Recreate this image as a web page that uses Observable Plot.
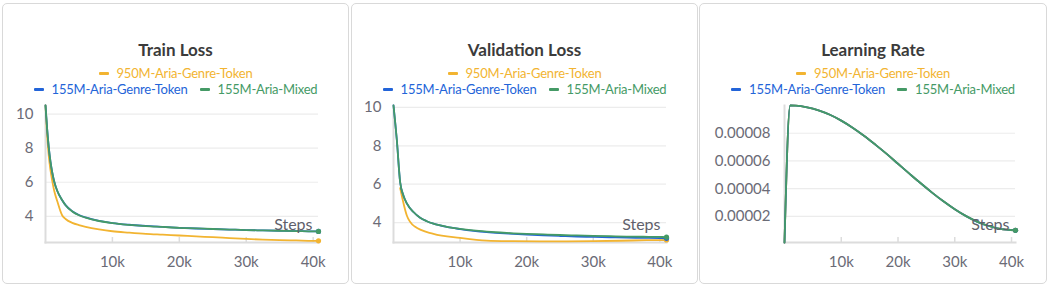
<!DOCTYPE html>
<html>
<head>
<meta charset="utf-8">
<script src="https://cdn.jsdelivr.net/npm/d3@7"></script>
<script src="https://cdn.jsdelivr.net/npm/@observablehq/plot@0.6"></script>
<style>
  html, body { margin: 0; padding: 0; background: #fff; }
  body { position: relative; width: 1049px; height: 286px; overflow: hidden; font-family: Lato, "Noto Sans", sans-serif; }
  .card { position: absolute; top: 3px; height: 281px; box-sizing: border-box; border: 1px solid #d9d9d9; border-radius: 5px; }
  .title { position: absolute; left: 0; right: 0; top: 35px; text-align: center; font-weight: bold; font-size: 17px; color: #3b3b3b; }
  .leg { position: absolute; left: 0; right: 0; text-align: center; font-size: 13px; letter-spacing: -0.2px; white-space: nowrap; }
  .leg span.item { display: inline-block; margin: 0 6px; }
  .leg i { display: inline-block; width: 10px; height: 3px; border-radius: 1px; vertical-align: middle; margin-right: 8px; position: relative; top: -1px; }
  .plotbox { position: absolute; top: 95px; }
  .plotbox svg { display: block; background: transparent; }
</style>
</head>
<body>
<div id="root"></div>
<script>
// ---- data ----
const seriesNames = ["950M-Aria-Genre-Token", "155M-Aria-Genre-Token", "155M-Aria-Mixed"];
const seriesColors = ["#f2b431", "#2364d8", "#459a66"];
const panelTitles = ["Train Loss", "Validation Loss", "Learning Rate"];
const xTicks = [10000, 20000, 30000, 40000];

// Train loss
const trainSteps = [0, 250, 500, 750, 1000, 1300, 1750, 2500, 3000, 4000, 5000, 6000, 8000, 10000, 12500, 15000, 17500, 20000, 22500, 25000, 27500, 30000, 32500, 35000, 37500, 40000, 40800];
const train950 = [10.5, 8.7, 7.5, 6.7, 6.1, 5.5, 4.9, 4.05, 3.85, 3.62, 3.49, 3.39, 3.24, 3.13, 3.05, 2.98, 2.93, 2.88, 2.83, 2.78, 2.73, 2.68, 2.64, 2.61, 2.59, 2.57, 2.57];
const train155Genre = [10.5, 9.1, 8.0, 7.2, 6.6, 6.05, 5.5, 4.95, 4.66, 4.3, 4.08, 3.94, 3.74, 3.61, 3.51, 3.44, 3.38, 3.33, 3.29, 3.26, 3.23, 3.2, 3.18, 3.16, 3.14, 3.12, 3.12];
const train155Mixed = [10.5, 9.1, 8.0, 7.2, 6.6, 6.05, 5.5, 4.95, 4.65, 4.29, 4.07, 3.93, 3.73, 3.6, 3.5, 3.43, 3.38, 3.33, 3.3, 3.26, 3.23, 3.2, 3.18, 3.16, 3.14, 3.12, 3.12];

// Validation loss
const val950Steps = [1000, 2000, 3200, 6000, 10000, 14000, 18000, 22000, 26000, 30000, 34000, 38000, 41000];
const val950 = [5.8, 4.37, 3.79, 3.41, 3.2, 3.06, 3.03, 3.02, 3.02, 3.03, 3.05, 3.08, 3.09];
const valSteps = [0, 500, 1000, 1500, 2000, 3000, 4000, 5000, 6000, 8000, 10000, 12000, 14000, 16000, 18000, 20000, 22500, 25000, 27500, 30000, 32500, 35000, 37500, 40000, 41000];
const val155Genre = [10.1, 8.3, 6.1, 5.4, 5.0, 4.55, 4.25, 4.07, 3.94, 3.77, 3.66, 3.57, 3.5, 3.45, 3.41, 3.37, 3.33, 3.3, 3.27, 3.25, 3.23, 3.21, 3.2, 3.19, 3.18];
const val155Mixed = [10.1, 8.3, 6.1, 5.4, 5.0, 4.55, 4.25, 4.07, 3.94, 3.78, 3.67, 3.59, 3.53, 3.48, 3.44, 3.41, 3.38, 3.35, 3.33, 3.31, 3.29, 3.27, 3.26, 3.25, 3.24];

// Learning rate (same schedule for all runs)
const lrSteps = [0, 1000, 2000, 4000, 6000, 8000, 10000, 12000, 14000, 16000, 18000, 20000, 22000, 24000, 26000, 28000, 30000, 32000, 34000, 36000, 38000, 40700];
const lrValues = [0.0000012, 0.0001, 0.0000999, 0.0000987, 0.0000965, 0.0000933, 0.0000891, 0.000084, 0.0000782, 0.0000718, 0.0000651, 0.000058, 0.0000509, 0.0000439, 0.0000372, 0.0000309, 0.0000252, 0.0000202, 0.0000161, 0.0000131, 0.000011, 0.00001];

// ---- build tables ----
function rows(steps, values, s) { return steps.map((x, i) => ({x, y: values[i], s})); }
const panels = [
  {
    series: [rows(trainSteps, train950, 0), rows(trainSteps, train155Genre, 1), rows(trainSteps, train155Mixed, 2)],
    left: 0, width: 349, marginLeft: 45, marginRight: 31,
    xDomain: [0, 40800], yDomain: [2.47, 10.5], yTicks: [4, 6, 8, 10], yFormat: d => String(d), tickPad: 12
  },
  {
    series: [rows(val950Steps, val950, 0), rows(valSteps, val155Genre, 1), rows(valSteps, val155Mixed, 2)],
    left: 351, width: 346, marginLeft: 42, marginRight: 31,
    xDomain: [0, 41000], yDomain: [2.96, 10.1], yTicks: [4, 6, 8, 10], yFormat: d => String(d), tickPad: 12
  },
  {
    series: [rows(lrSteps, lrValues, 0), rows(lrSteps, lrValues, 1), rows(lrSteps, lrValues, 2)],
    left: 699, width: 348, marginLeft: 85, marginRight: 32,
    xDomain: [0, 40700], yDomain: [0.0000012, 0.0001], yTicks: [0.00002, 0.00004, 0.00006, 0.00008], yFormat: d => d.toFixed(5), tickPad: 14
  }
];
const cardBoxes = [[2, 347], [351, 347], [699, 348]];

const root = document.getElementById("root");
panels.forEach((p, k) => {
  const card = document.createElement("div");
  card.className = "card";
  card.style.left = cardBoxes[k][0] + "px";
  card.style.width = cardBoxes[k][1] + "px";
  const t = document.createElement("div");
  t.className = "title";
  t.textContent = panelTitles[k];
  card.appendChild(t);
  const l1 = document.createElement("div");
  l1.className = "leg"; l1.style.top = "61px";
  const l2 = document.createElement("div");
  l2.className = "leg"; l2.style.top = "77px";
  seriesNames.forEach((n, i) => {
    const it = document.createElement("span");
    it.className = "item";
    it.style.color = seriesColors[i];
    it.innerHTML = `<i style="background:${seriesColors[i]}"></i>`;
    it.appendChild(document.createTextNode(n));
    (i === 0 ? l1 : l2).appendChild(it);
  });
  card.appendChild(l1); card.appendChild(l2);
  root.appendChild(card);

  const ends = p.series.map(s => s[s.length - 1]);
  const chart = Plot.plot({
    width: p.width, height: 185,
    marginLeft: p.marginLeft, marginRight: p.marginRight, marginTop: 10, marginBottom: 38,
    style: {fontFamily: "Lato, 'Noto Sans', sans-serif", fontSize: "15px", color: "#6b6b76", background: "transparent", overflow: "visible"},
    x: {domain: p.xDomain, label: null},
    y: {domain: p.yDomain, label: null},
    marks: [
      Plot.gridY(p.yTicks, {stroke: "#ececec", strokeOpacity: 1, strokeWidth: 1.2}),
      Plot.frame({anchor: "bottom", stroke: "#dcdcdc", strokeWidth: 2}),
      Plot.frame({anchor: "left", stroke: "#dcdcdc", strokeWidth: 2}),
      Plot.axisX(xTicks, {tickSize: -5, tickPadding: 19, stroke: "#dcdcdc", strokeWidth: 1.5, tickFormat: d => (d / 1000) + "k", fill: "#6b6b76"}),
      Plot.axisY(p.yTicks, {tickSize: 0, tickPadding: p.tickPad, tickFormat: p.yFormat, fill: "#6b6b76"}),
      ...p.series.map(s => Plot.line(s, {x: "x", y: "y", stroke: seriesColors[s[0].s], strokeWidth: 1.8, curve: "monotone-x"})),
      Plot.dot(ends, {x: "x", y: "y", fill: d => seriesColors[d.s], r: 2.6}),
      Plot.text(["Steps"], {frameAnchor: "bottom-right", textAnchor: "end", dx: -6, dy: -13, fontSize: 16, fill: "#5f5f6b"})
    ]
  });
  const box = document.createElement("div");
  box.className = "plotbox";
  box.style.left = p.left + "px";
  box.appendChild(chart);
  root.appendChild(box);
});
</script>
</body>
</html>
